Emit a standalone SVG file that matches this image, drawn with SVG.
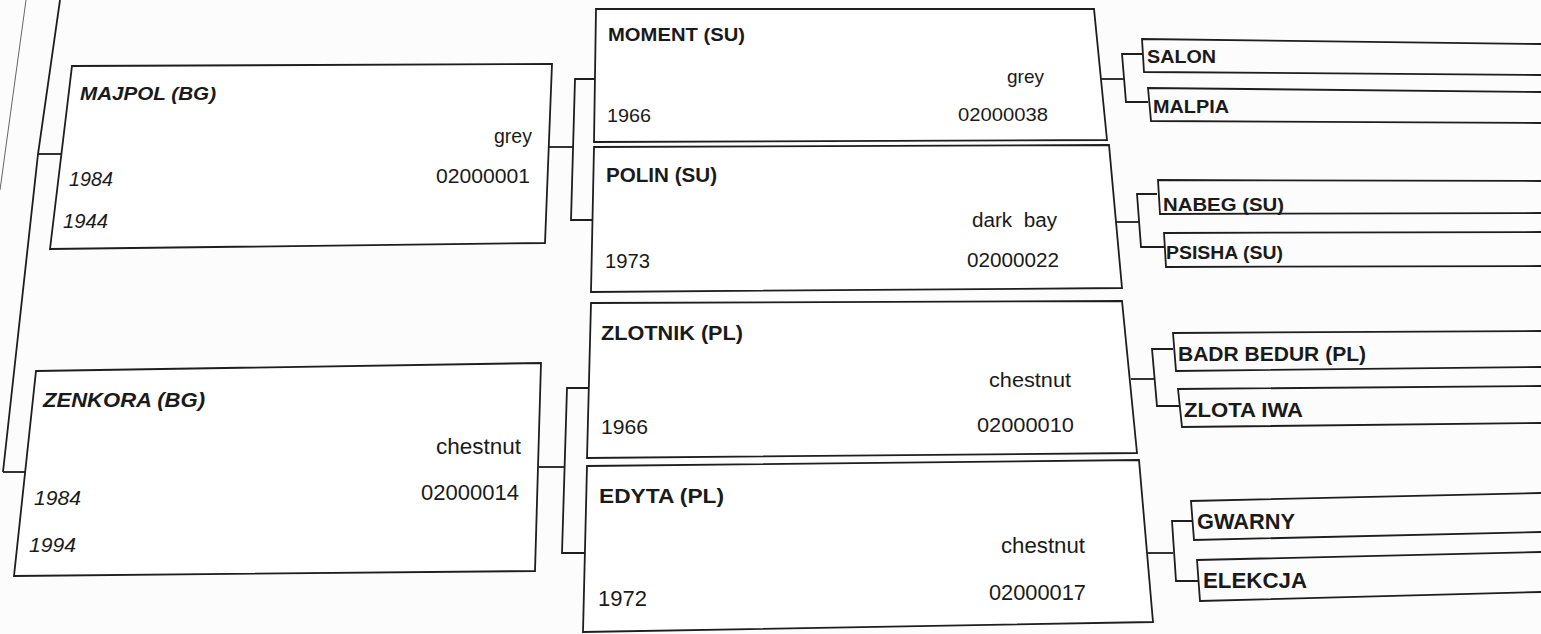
<svg xmlns="http://www.w3.org/2000/svg" width="1541" height="634" viewBox="0 0 1541 634">
<style>
.bx{fill:#ffffff;stroke:#1e1e1e;stroke-width:1.8;stroke-linejoin:miter}
.ob{fill:none;stroke:#1e1e1e;stroke-width:1.8}
.cn{fill:none;stroke:#1e1e1e;stroke-width:1.8}
.t{font-family:"Liberation Sans",Arial,sans-serif;fill:#1a1a1a}
.b{font-weight:bold}
.i{font-style:italic}
.e{text-anchor:end}
</style>
<rect x="0" y="0" width="1541" height="634" fill="#fcfcfc"/>
<g id="connectors">
<line x1="26" y1="0" x2="0" y2="190" stroke="#666" stroke-width="1"/>
<polyline class="cn" points="60,0 38,154 3,472"/>
<line class="cn" x1="38" y1="154" x2="62" y2="154"/>
<line class="cn" x1="3" y1="472" x2="26" y2="472"/>
<polyline class="cn" points="549,147 573,147"/>
<polyline class="cn" points="595,79 575,79 571,220 592,220"/>
<polyline class="cn" points="539,467 565,467"/>
<polyline class="cn" points="588,388 567,388 562,553 585,553"/>
<polyline class="cn" points="1101,79 1124,79"/>
<polyline class="cn" points="1142,54 1122,54 1126,102 1148,102"/>
<polyline class="cn" points="1116,222 1139,222"/>
<polyline class="cn" points="1157,194 1137,194 1141,247 1164,247"/>
<polyline class="cn" points="1131,379 1154,379"/>
<polyline class="cn" points="1173,349 1152,349 1157,406 1179,406"/>
<polyline class="cn" points="1148,553 1173,553"/>
<polyline class="cn" points="1192,521 1172,521 1176,581 1198,581"/>
</g>
<g id="majpol">
<polygon class="bx" points="72,66 552,64 545,243 50,249"/>
<text class="t b i" x="80" y="100" font-size="19" textLength="136" lengthAdjust="spacingAndGlyphs">MAJPOL (BG)</text>
<text class="t e" x="532" y="143" font-size="20" textLength="38" lengthAdjust="spacingAndGlyphs">grey</text>
<text class="t e" x="530" y="183" font-size="20" textLength="94" lengthAdjust="spacingAndGlyphs">02000001</text>
<text class="t i" x="69" y="186" font-size="20" textLength="44" lengthAdjust="spacingAndGlyphs">1984</text>
<text class="t i" x="63" y="228" font-size="20" textLength="45" lengthAdjust="spacingAndGlyphs">1944</text>
</g>
<g id="zenkora">
<polygon class="bx" points="36,371 541,363 535,571 14,576"/>
<text class="t b i" x="43" y="407" font-size="21" textLength="162" lengthAdjust="spacingAndGlyphs">ZENKORA (BG)</text>
<text class="t e" x="521" y="454" font-size="22" textLength="85" lengthAdjust="spacingAndGlyphs">chestnut</text>
<text class="t e" x="519" y="500" font-size="22" textLength="98" lengthAdjust="spacingAndGlyphs">02000014</text>
<text class="t i" x="34" y="505" font-size="21" textLength="47" lengthAdjust="spacingAndGlyphs">1984</text>
<text class="t i" x="29" y="552" font-size="21" textLength="47" lengthAdjust="spacingAndGlyphs">1994</text>
</g>
<g id="moment">
<polygon class="bx" points="596,9 1094,9 1107,140 594,142"/>
<text class="t b" x="608" y="41" font-size="19" textLength="137" lengthAdjust="spacingAndGlyphs">MOMENT (SU)</text>
<text class="t e" x="1044" y="83" font-size="19" textLength="37" lengthAdjust="spacingAndGlyphs">grey</text>
<text class="t" x="607" y="122" font-size="19" textLength="44" lengthAdjust="spacingAndGlyphs">1966</text>
<text class="t e" x="1048" y="121" font-size="19" textLength="90" lengthAdjust="spacingAndGlyphs">02000038</text>
</g>
<g id="polin">
<polygon class="bx" points="594,147 1109,145 1122,288 591,292"/>
<text class="t b" x="606" y="182" font-size="20" textLength="111" lengthAdjust="spacingAndGlyphs">POLIN (SU)</text>
<text class="t e" x="1057" y="227" font-size="20" textLength="85" lengthAdjust="spacingAndGlyphs" xml:space="preserve">dark  bay</text>
<text class="t" x="605" y="268" font-size="20" textLength="45" lengthAdjust="spacingAndGlyphs">1973</text>
<text class="t e" x="1059" y="267" font-size="20" textLength="92" lengthAdjust="spacingAndGlyphs">02000022</text>
</g>
<g id="zlotnik">
<polygon class="bx" points="591,303 1122,301 1137,453 587,458"/>
<text class="t b" x="601" y="340" font-size="20" textLength="142" lengthAdjust="spacingAndGlyphs">ZLOTNIK (PL)</text>
<text class="t e" x="1071" y="387" font-size="21" textLength="82" lengthAdjust="spacingAndGlyphs">chestnut</text>
<text class="t" x="601" y="434" font-size="21" textLength="47" lengthAdjust="spacingAndGlyphs">1966</text>
<text class="t e" x="1074" y="432" font-size="21" textLength="97" lengthAdjust="spacingAndGlyphs">02000010</text>
</g>
<g id="edyta">
<polygon class="bx" points="587,466 1139,460 1153,622 583,632"/>
<text class="t b" x="599" y="503" font-size="21" textLength="125" lengthAdjust="spacingAndGlyphs">EDYTA (PL)</text>
<text class="t e" x="1085" y="553" font-size="22" textLength="84" lengthAdjust="spacingAndGlyphs">chestnut</text>
<text class="t" x="598" y="606" font-size="22" textLength="49" lengthAdjust="spacingAndGlyphs">1972</text>
<text class="t e" x="1086" y="600" font-size="22" textLength="97" lengthAdjust="spacingAndGlyphs">02000017</text>
</g>
<g id="salon">
<polyline class="ob" points="1541,44 1142,39 1144,72 1541,75"/>
<text class="t b" x="1147" y="63" font-size="18" textLength="69" lengthAdjust="spacingAndGlyphs">SALON</text>
</g>
<g id="malpia">
<polyline class="ob" points="1541,92 1148,88 1151,121 1541,123"/>
<text class="t b" x="1153" y="113" font-size="18" textLength="76" lengthAdjust="spacingAndGlyphs">MALPIA</text>
</g>
<g id="nabeg">
<polyline class="ob" points="1541,181 1158,180 1160,214 1541,213"/>
<text class="t b" x="1163" y="211" font-size="19" textLength="121" lengthAdjust="spacingAndGlyphs">NABEG (SU)</text>
</g>
<g id="psisha">
<polyline class="ob" points="1541,232 1164,233 1166,267 1541,266"/>
<text class="t b" x="1166" y="259" font-size="19" textLength="117" lengthAdjust="spacingAndGlyphs">PSISHA (SU)</text>
</g>
<g id="badr-bedur">
<polyline class="ob" points="1541,331 1173,333 1176,371 1541,367"/>
<text class="t b" x="1178" y="361" font-size="21" textLength="188" lengthAdjust="spacingAndGlyphs">BADR BEDUR (PL)</text>
</g>
<g id="zlota-iwa">
<polyline class="ob" points="1541,386 1178,389 1182,427 1541,423"/>
<text class="t b" x="1184" y="417" font-size="21" textLength="119" lengthAdjust="spacingAndGlyphs">ZLOTA IWA</text>
</g>
<g id="gwarny">
<polyline class="ob" points="1541,493 1191,501 1194,540 1541,532"/>
<text class="t b" x="1197" y="529" font-size="22" textLength="98" lengthAdjust="spacingAndGlyphs">GWARNY</text>
</g>
<g id="elekcja">
<polyline class="ob" points="1541,552 1197,560 1200,601 1541,592"/>
<text class="t b" x="1203" y="588" font-size="22" textLength="104" lengthAdjust="spacingAndGlyphs">ELEKCJA</text>
</g>
</svg>
